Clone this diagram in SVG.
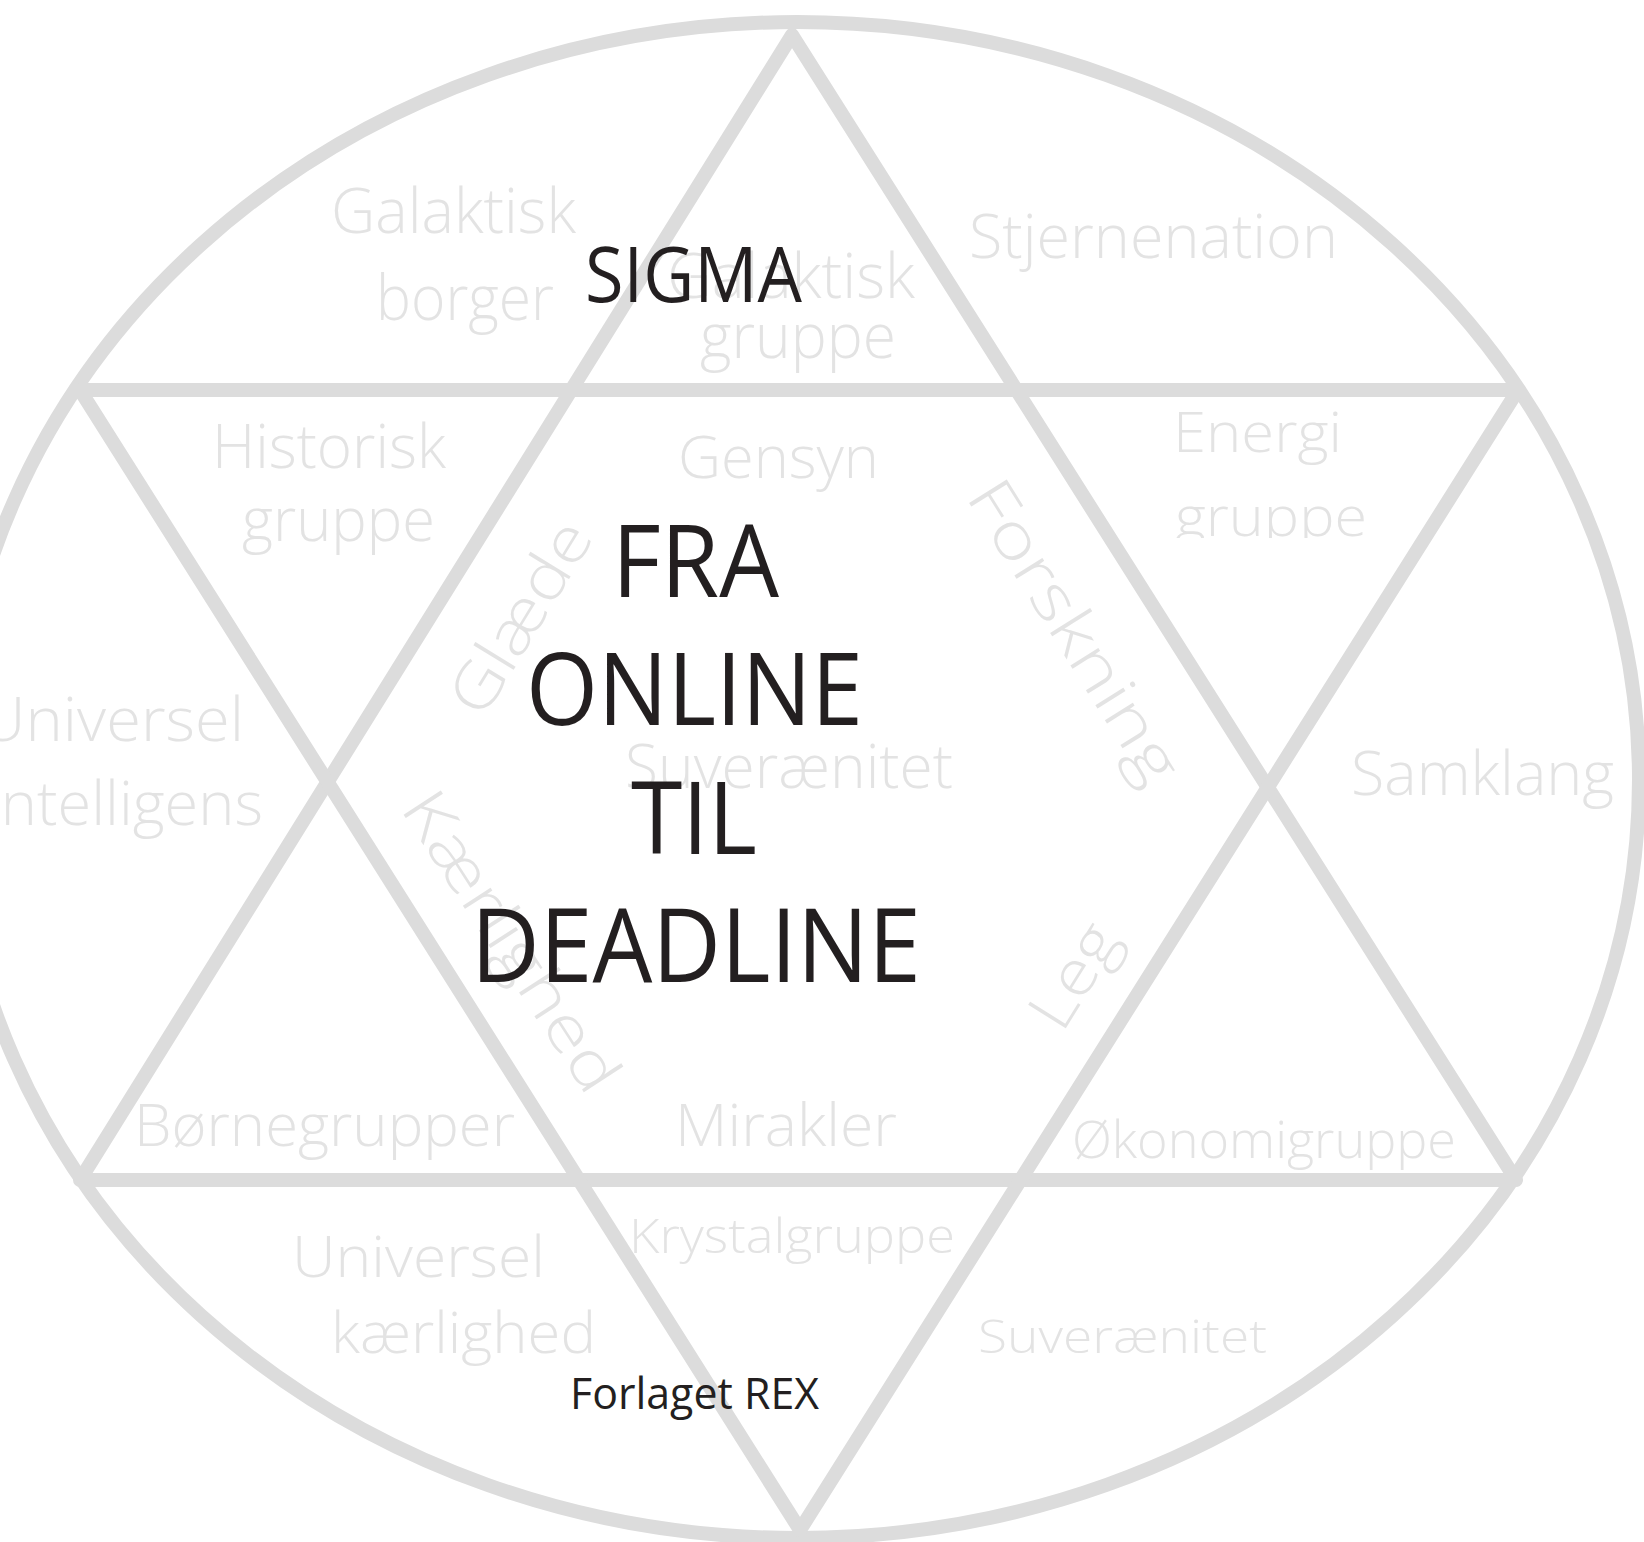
<svg xmlns="http://www.w3.org/2000/svg" width="1644" height="1542" viewBox="0 0 1644 1542">
<style>
.ln{fill:none;stroke:#dcdcdc;stroke-width:14;stroke-linejoin:round}
.g{font-family:"Open Sans","Liberation Sans",sans-serif;font-weight:300;fill:#e3e3e3}
.b{font-family:"Open Sans","Liberation Sans",sans-serif;font-weight:400;fill:#231f20}
</style>
<defs>
<clipPath id="clipE"><rect x="1100" y="470" width="300" height="68"/></clipPath>
</defs>
<rect width="1644" height="1542" fill="#ffffff"/>
<g id="connectors">
<ellipse class="ln" cx="797" cy="780" rx="842" ry="758"/>
<polygon class="ln" points="792,35 1516,1180 80,1180"/>
<polygon class="ln" points="80,390 1518,390 800,1530"/>
</g>
<g id="labels">
<g id="n-galaktisk-borger"><text class="g" font-size="62" x="331" y="233" textLength="245" lengthAdjust="spacingAndGlyphs">Galaktisk</text><text class="g" font-size="62" x="376" y="320" textLength="178" lengthAdjust="spacingAndGlyphs">borger</text></g>
<g id="n-galaktisk-gruppe"><text class="g" font-size="62" x="667" y="298" textLength="248" lengthAdjust="spacingAndGlyphs">Galaktisk</text><text class="g" font-size="62" x="700" y="358" textLength="196" lengthAdjust="spacingAndGlyphs">gruppe</text></g>
<g id="n-stjernenation"><text class="g" font-size="60" x="969" y="258" textLength="369" lengthAdjust="spacingAndGlyphs">Stjernenation</text></g>
<g id="n-historisk"><text class="g" font-size="60" x="212" y="468" textLength="234" lengthAdjust="spacingAndGlyphs">Historisk</text><text class="g" font-size="60" x="242" y="541" textLength="193" lengthAdjust="spacingAndGlyphs">gruppe</text></g>
<g id="n-gensyn"><text class="g" font-size="58" x="678" y="478" textLength="201" lengthAdjust="spacingAndGlyphs">Gensyn</text></g>
<g id="n-energi"><text class="g" font-size="56" x="1173" y="452" textLength="169" lengthAdjust="spacingAndGlyphs">Energi</text><text class="g" font-size="56" x="1175" y="536" textLength="192" lengthAdjust="spacingAndGlyphs" clip-path="url(#clipE)">gruppe</text></g>
<g id="n-glaede"><text class="g" font-size="62" text-anchor="middle" transform="translate(520,617) rotate(-58.5)" x="0" y="22" textLength="215" lengthAdjust="spacingAndGlyphs">Glæde</text></g>
<g id="n-forskning"><text class="g" font-size="62" text-anchor="middle" transform="translate(1075,631) rotate(58)" x="0" y="22" textLength="345" lengthAdjust="spacingAndGlyphs">Forskning</text></g>
<g id="n-universel-intelligens"><text class="g" font-size="60" x="-20" y="741" textLength="264" lengthAdjust="spacingAndGlyphs">Universel</text><text class="g" font-size="60" x="-13" y="825" textLength="276" lengthAdjust="spacingAndGlyphs">intelligens</text></g>
<g id="n-suveraenitet-c"><text class="g" font-size="60" x="625" y="788" textLength="328" lengthAdjust="spacingAndGlyphs">Suverænitet</text></g>
<g id="n-samklang"><text class="g" font-size="60" x="1351" y="795" textLength="263" lengthAdjust="spacingAndGlyphs">Samklang</text></g>
<g id="n-kaerlighed"><text class="g" font-size="62" text-anchor="middle" transform="translate(512,941) rotate(57)" x="0" y="22" textLength="345" lengthAdjust="spacingAndGlyphs">Kærlighed</text></g>
<g id="n-leg"><text class="g" font-size="62" text-anchor="middle" transform="translate(1073,975) rotate(-58)" x="0" y="22" textLength="112" lengthAdjust="spacingAndGlyphs">Leg</text></g>
<g id="n-bornegrupper"><text class="g" font-size="58" x="134" y="1146" textLength="381" lengthAdjust="spacingAndGlyphs">Børnegrupper</text></g>
<g id="n-mirakler"><text class="g" font-size="58" x="675" y="1146" textLength="222" lengthAdjust="spacingAndGlyphs">Mirakler</text></g>
<g id="n-okonomigruppe"><text class="g" font-size="52" x="1072" y="1158" textLength="384" lengthAdjust="spacingAndGlyphs">Økonomigruppe</text></g>
<g id="n-universel-kaerlighed"><text class="g" font-size="57" x="292" y="1277" textLength="253" lengthAdjust="spacingAndGlyphs">Universel</text><text class="g" font-size="57" x="331" y="1353" textLength="265" lengthAdjust="spacingAndGlyphs">kærlighed</text></g>
<g id="n-krystalgruppe"><text class="g" font-size="48" x="629" y="1253" textLength="326" lengthAdjust="spacingAndGlyphs">Krystalgruppe</text></g>
<g id="n-suveraenitet-b"><text class="g" font-size="46" x="978" y="1353" textLength="289" lengthAdjust="spacingAndGlyphs">Suverænitet</text></g>
</g>
<g id="title">
<text class="b" font-size="76" x="585" y="302" textLength="217" lengthAdjust="spacingAndGlyphs">SIGMA</text>
<text class="b" font-size="101" x="612" y="597" textLength="167" lengthAdjust="spacingAndGlyphs">FRA</text>
<text class="b" font-size="101" x="526" y="725" textLength="337" lengthAdjust="spacingAndGlyphs">ONLINE</text>
<text class="b" font-size="101" x="631" y="854" textLength="126" lengthAdjust="spacingAndGlyphs">TIL</text>
<text class="b" font-size="102" x="471" y="982" textLength="450" lengthAdjust="spacingAndGlyphs">DEADLINE</text>
<text class="b" font-size="44" x="570" y="1409" textLength="249" lengthAdjust="spacingAndGlyphs">Forlaget REX</text>
</g>
</svg>
